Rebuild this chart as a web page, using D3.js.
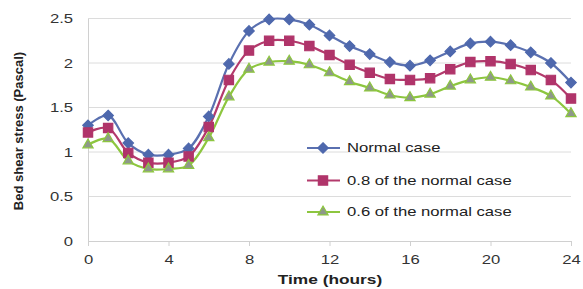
<!DOCTYPE html>
<html><head><meta charset="utf-8">
<script src="https://cdn.jsdelivr.net/npm/d3@7"></script>
<style>body{margin:0;background:#fff}svg{display:block}text{font-family:"Liberation Sans",Arial,sans-serif}</style>
</head><body>
<script>
const hours = d3.range(0, 25);
const normalCase = [1.30,1.41,1.10,0.97,0.97,1.04,1.40,1.99,2.36,2.49,2.49,2.43,2.31,2.19,2.10,2.01,1.97,2.03,2.13,2.22,2.24,2.20,2.12,2.00,1.78];
const case08 = [1.22,1.27,0.99,0.88,0.88,0.95,1.28,1.81,2.14,2.25,2.25,2.19,2.09,1.98,1.89,1.82,1.81,1.83,1.93,2.01,2.02,1.99,1.92,1.81,1.60];
const case06 = [1.08,1.15,0.90,0.81,0.81,0.85,1.16,1.62,1.93,2.01,2.02,1.98,1.89,1.79,1.72,1.64,1.61,1.65,1.74,1.81,1.84,1.80,1.73,1.63,1.43];
const seriesNames = ["Normal case","0.8 of the normal case","0.6 of the normal case"];
const xTicks = [0,4,8,12,16,20,24];
const yTicks = [0,0.5,1,1.5,2,2.5];

const W=583,H=289, STRETCH=1.28;
const svg=d3.select("body").append("svg").attr("width",W).attr("height",H);
const x=d3.scaleLinear().domain([0,24]).range([88,571]);
const y=d3.scaleLinear().domain([0,2.5]).range([241,18.5]);

function stretch(sel){
  sel.each(function(){
    const L=this.getComputedTextLength();
    d3.select(this).attr("textLength",L*STRETCH).attr("lengthAdjust","spacingAndGlyphs");
  });
}

svg.append("g").selectAll("line").data(yTicks.filter(d=>d>0)).join("line")
 .attr("x1",88).attr("x2",571).attr("y1",d=>y(d)).attr("y2",d=>y(d))
 .attr("stroke","#dcdcdc").attr("stroke-width",1);

const yAxis=svg.append("g").attr("transform","translate(88,0)")
 .call(d3.axisLeft(y).tickValues(yTicks).tickSize(0).tickPadding(15).tickFormat(d3.format("")));
yAxis.select(".domain").attr("stroke","#d0d0d0");
yAxis.selectAll("text").attr("font-size",13).attr("fill","#333").call(stretch);

const xAxis=svg.append("g").attr("transform","translate(0,241)")
 .call(d3.axisBottom(x).tickValues(xTicks).tickSize(5).tickSizeOuter(0).tickPadding(9));
xAxis.select(".domain").attr("stroke","#d0d0d0");
xAxis.selectAll("line").attr("stroke","#d0d0d0");
xAxis.selectAll("text").attr("font-size",13).attr("fill","#333").call(stretch);

svg.append("text").attr("x",330).attr("y",284).attr("text-anchor","middle")
 .attr("font-size",13.5).attr("font-weight","bold").attr("fill","#222").text("Time (hours)").call(stretch);
svg.append("text").attr("transform","translate(23,131) rotate(-90)").attr("text-anchor","middle")
 .attr("font-size",13).attr("font-weight","bold").attr("fill","#222").text("Bed shear stress (Pascal)");

const styles=[
 {data:normalCase,line:"#5a70b0",fill:"#4e68ad",stroke:"#4e68ad",sym:d3.symbolDiamond2,size:70},
 {data:case08,line:"#b33a6c",fill:"#b0346a",stroke:"#b0346a",sym:d3.symbolSquare2,size:110},
 {data:case06,line:"#8dc63f",fill:"#8e988a",stroke:"#8dc63f",sym:d3.symbolTriangle2,size:75}
];
const line=d3.line().x((d,i)=>x(hours[i])).y(d=>y(d)).curve(d3.curveCatmullRom.alpha(0.5));
styles.forEach(s=>{
 svg.append("path").attr("d",line(s.data)).attr("fill","none").attr("stroke",s.line).attr("stroke-width",2.2);
});
styles.forEach(s=>{
 const sym=d3.symbol().type(s.sym).size(s.size);
 svg.append("g").selectAll("path").data(s.data).join("path")
  .attr("transform",(d,i)=>`translate(${x(hours[i])},${y(d)})`)
  .attr("d",sym).attr("fill",s.fill).attr("stroke",s.stroke).attr("stroke-width",1.2);
});

const legY=[152,184.5,216];
styles.forEach((s,i)=>{
 const g=svg.append("g").attr("transform",`translate(0,${legY[i]})`);
 g.append("line").attr("x1",307).attr("x2",340).attr("y1",-4).attr("y2",-4).attr("stroke",s.line).attr("stroke-width",2);
 g.append("path").attr("transform","translate(323,-4)").attr("d",d3.symbol().type(s.sym).size(s.size)())
  .attr("fill",s.fill).attr("stroke",s.stroke).attr("stroke-width",1.2);
 g.append("text").attr("x",347).attr("y",0).attr("font-size",13).attr("fill","#222").text(seriesNames[i]).call(stretch);
});
</script>
</body></html>
